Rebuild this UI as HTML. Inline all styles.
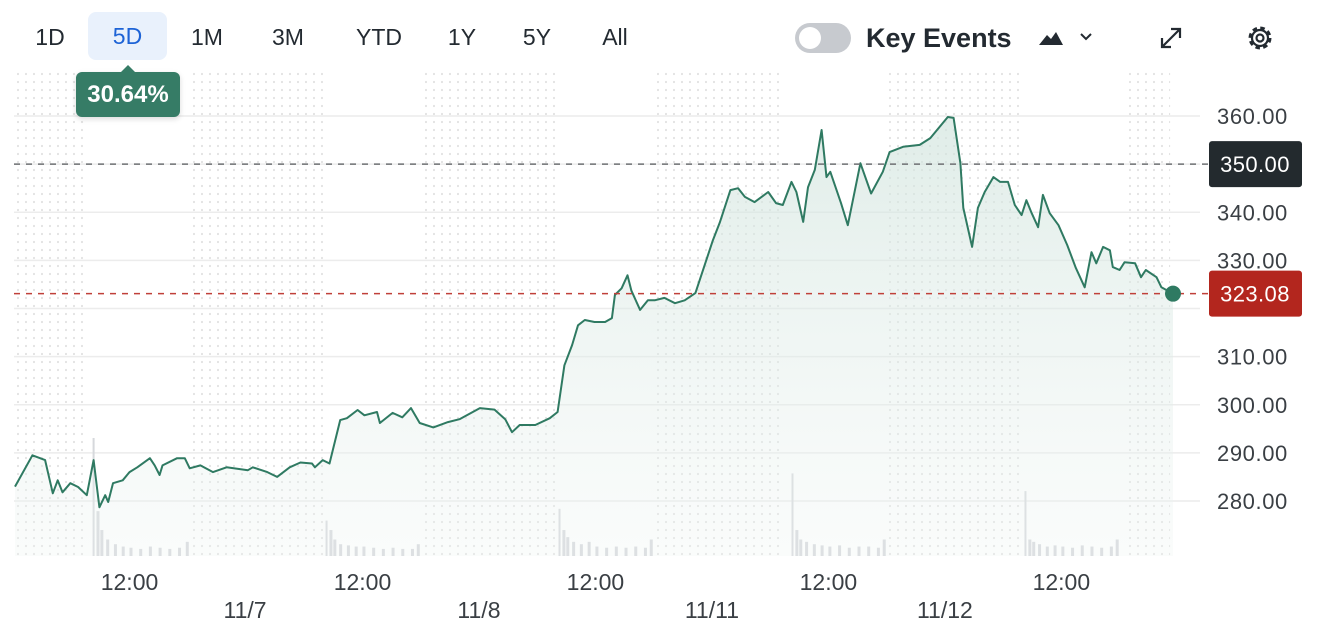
<!DOCTYPE html>
<html><head><meta charset="utf-8"><style>
body{margin:0;width:1340px;height:643px;background:#fff;font-family:"Liberation Sans",sans-serif;overflow:hidden;position:relative;color:#232a31}
.btn{position:absolute;top:13px;height:48px;line-height:48px;font-size:23px;text-align:center;border-radius:8px;color:#232a31}
</style></head><body>
<div class="btn" style="left:22px;width:56px">1D</div>
<div class="btn" style="left:88px;width:79px;top:12px;background:#e9f1fc;color:#1d63d6">5D</div>
<div class="btn" style="left:179px;width:56px">1M</div>
<div class="btn" style="left:260px;width:56px">3M</div>
<div class="btn" style="left:344px;width:70px">YTD</div>
<div class="btn" style="left:434px;width:56px">1Y</div>
<div class="btn" style="left:509px;width:56px">5Y</div>
<div class="btn" style="left:587px;width:56px">All</div>
<div style="position:absolute;left:795px;top:23px;width:56px;height:30px;border-radius:15px;background:#c7cacf"><div style="position:absolute;left:4px;top:4px;width:22px;height:22px;border-radius:11px;background:#fff"></div></div>
<div style="position:absolute;left:866px;top:23px;font-size:27px;font-weight:bold">Key Events</div>
<svg style="position:absolute;left:1036px;top:26px" width="62" height="24"><path d="M3 19 L11 9 L15 13 L20 6 L27 19 Z" fill="#232a31"/><path d="M45 8 L50 13 L55 8" stroke="#232a31" stroke-width="2" fill="none"/></svg>
<svg style="position:absolute;left:1158px;top:25px" width="26" height="26"><path d="M4 22 L22 4 M13 4 H22 V13 M4 13 V22 H13" stroke="#232a31" stroke-width="2.2" fill="none"/></svg>
<svg style="position:absolute;left:1245px;top:23px" width="30" height="30"><circle cx="15" cy="15" r="10" stroke="#232a31" stroke-width="3" fill="none" stroke-dasharray="4.5 3.35"/><circle cx="15" cy="15" r="8" stroke="#232a31" stroke-width="2.2" fill="none"/><circle cx="15" cy="15" r="3.5" stroke="#232a31" stroke-width="2.2" fill="none"/></svg>

<svg id="chart" width="1340" height="643" style="position:absolute;left:0;top:0;pointer-events:none">
<defs>
<pattern id="dots" width="8" height="8" patternUnits="userSpaceOnUse"><circle cx="2" cy="2" r="1.1" fill="#e2e2e2"/></pattern>
<linearGradient id="fillg" x1="0" y1="0" x2="0" y2="1"><stop offset="0" stop-color="#cfe3dc" stop-opacity="0.65"/><stop offset="1" stop-color="#eef4f2" stop-opacity="0.3"/></linearGradient>
</defs>
<g id="bg"></g><g id="grid"></g><g id="vol"></g><g id="area"></g><g id="axes"></g>
</svg>
<div style="position:absolute;left:76px;top:72px;width:104px;height:45px;background:#367c66;border-radius:6px;color:#fff;font-weight:bold;font-size:24px;line-height:45px;text-align:center;box-shadow:0 2px 6px rgba(0,0,0,.15)">30.64%<div style="position:absolute;left:44px;top:-7px;width:0;height:0;border-left:8px solid transparent;border-right:8px solid transparent;border-bottom:8px solid #367c66"></div></div>

<script>
const times=[0.1,1.9,3.2,4.0,4.5,5.0,5.8,6.6,7.5,8.2,8.8,9.4,9.7,10.2,11.2,11.9,12.7,14.0,14.5,15.0,15.3,16.8,17.6,18.1,19.2,20.5,21.9,24.1,24.6,26.1,27.1,28.4,29.5,30.7,31.0,31.8,32.5,33.6,34.3,35.4,36.1,37.4,37.7,39.0,40.0,40.9,41.8,43.2,44.7,45.9,48.0,49.5,50.6,51.3,52.1,53.7,55.2,56.0,56.7,57.5,58.1,58.8,59.8,60.9,61.6,61.9,62.6,63.2,63.6,64.5,65.3,66.0,67.0,68.1,69.1,70.2,72.0,72.7,73.8,74.6,75.3,76.3,77.7,78.5,79.2,80.1,80.6,81.3,81.8,82.5,83.2,83.7,84.1,85.2,85.9,87.2,88.3,89.5,90.2,91.6,93.3,94.4,96.2,96.8,97.5,97.8,98.7,99.3,100.0,100.9,101.6,102.4,103.1,103.8,104.3,104.8,105.5,106.0,106.7,107.6,108.5,109.4,110.3,111.0,111.5,112.2,112.9,113.2,113.9,114.4,115.5,116.1,116.6,117.7,118.2,119.4];
const prices=[283,289.5,288.5,281.6,284.3,281.8,283.7,282.9,281.2,288.5,278.7,281.2,279.8,283.7,284.3,286,287,288.9,287.4,285.4,287.4,288.9,288.9,286.8,287.4,286,287,286.4,287,286,285,287,288,287.8,287,288.5,287.8,296.8,297.2,298.9,297.8,298.5,296.2,298.3,297.4,299.3,296.2,295.3,296.4,297,299.3,299,297,294.3,295.8,295.8,297.2,298.5,308.2,312.4,316.5,317.6,317.2,317.2,318,322.8,324.2,326.9,323.7,319.7,321.7,321.7,322.2,321.1,321.7,323.2,334.2,337.8,344.6,345,343.2,342.1,344.2,341.9,341.5,346.3,344.2,338,345.2,348.8,357.1,347.3,348.4,341.9,337.3,350.2,343.9,348.4,352.5,353.6,354,355.4,359.8,359.6,350.2,340.9,332.8,340.9,344.2,347.3,346.3,346.3,341.5,339.4,342.5,340,336.9,343.6,339.8,337.3,333.2,328.4,324.4,331.7,329.4,332.8,332.1,328.6,328,329.6,329.4,326.5,328,326.5,324.4,323.08];
const volTimes=[8.2,8.6,9.0,9.6,10.4,11.2,12.0,13.0,14.0,15.0,16.0,17.0,17.8,32.2,32.6,33.0,33.6,34.4,35.2,36.0,37.0,38.0,39.0,40.0,41.0,41.6,56.2,56.6,57.0,57.6,58.4,59.2,60.0,61.0,62.0,63.0,64.0,65.0,65.6,80.2,80.6,81.0,81.6,82.4,83.2,84.0,85.0,86.0,87.0,88.0,89.0,89.6,104.2,104.6,105.0,105.6,106.4,107.2,108.0,109.0,110.0,111.0,112.0,113.0,113.6];
const volumes=[100,38,22,14,10,8,7,6,8,7,6,7,12,30,22,14,10,9,8,8,7,6,7,6,6,10,40,22,16,12,10,12,8,7,8,7,8,7,14,70,22,14,12,10,9,8,9,7,8,8,7,14,55,14,12,10,8,9,8,7,9,8,7,8,14];
const yTicks=[280,290,300,310,320,330,340,350,360];
const xTickTimes=[11.9,35.9,59.9,83.9,107.9];
const xTickLabels=["12:00","12:00","12:00","12:00","12:00"];
const dateTimes=[23.8,47.9,71.9,95.9];
const dateLabels=["11/7","11/8","11/11","11/12"];
const extHours=[[0,7.7],[18.1,32.1],[42.0,56.2],[66.0,79.4],[89.7,104.1],[114.4,119.1]];
const prevClose=350.00, lastPrice=323.08;

const X0=14,X1=1173,T0=0,T1=119.4,Y280=501,Y360=116;
const xs=t=>X0+(t-T0)/(T1-T0)*(X1-X0);
const ys=p=>Y280+(p-280)/(80)*(Y360-Y280);
const NS="http://www.w3.org/2000/svg";
function mk(tag,attrs,parent){const e=document.createElementNS(NS,tag);for(const k in attrs)e.setAttribute(k,attrs[k]);parent.appendChild(e);return e;}
const bg=document.getElementById('bg'),grid=document.getElementById('grid'),vol=document.getElementById('vol'),area=document.getElementById('area'),axes=document.getElementById('axes');

extHours.forEach(r=>{const e=mk('rect',{x:xs(r[0]),y:68,width:xs(r[1])-xs(r[0]),height:488,fill:'url(#dots)'},bg);

});
yTicks.forEach(v=>{const l=mk('line',{x1:14,x2:1200,y1:ys(v),y2:ys(v),stroke:'#ececec','stroke-width':1.5},grid);


if(v===350)return;
const t=mk('text',{x:1217,y:ys(v)+8,'font-size':22,'letter-spacing':0.6,fill:'#3a3f44','font-family':'Liberation Sans'},axes);t.textContent=v.toFixed(2);

});
const volMax=100;
volTimes.forEach((t,i)=>{const h=volumes[i]/volMax*118;const r=mk('rect',{x:xs(t)-1,y:556-h,width:i%13===0?2:3,height:h,fill:'#d6d8dc'},vol);

});
let d='';times.forEach((t,i)=>{d+=(i?'L':'M')+xs(t).toFixed(1)+' '+ys(prices[i]).toFixed(1);});
const a=mk('path',{d:d+`L${xs(times[times.length-1])} 556L${xs(times[0])} 556Z`,fill:'url(#fillg)'},area);


const ln=mk('path',{d:d,fill:'none',stroke:'#2f7a62','stroke-width':2,'stroke-linejoin':'round'},area);


const pc=mk('line',{x1:14,x2:1208,y1:ys(prevClose),y2:ys(prevClose),stroke:'#6e7073','stroke-width':1.5,'stroke-dasharray':'6 6'},area);


const lp=mk('line',{x1:14,x2:1208,y1:ys(lastPrice),y2:ys(lastPrice),stroke:'#c0403a','stroke-width':1.5,'stroke-dasharray':'6 6'},area);


const dot=mk('circle',{cx:xs(times[times.length-1]),cy:ys(prices[prices.length-1]),r:8,fill:'#2f7a62'},area);


[[prevClose,'#232a2e','previous-close-badge'],[lastPrice,'#b3261e','last-price-badge']].forEach(b=>{
const g=mk('g',{},axes);


mk('rect',{x:1209,y:ys(b[0])-23,width:93,height:46,rx:3,fill:b[1]},g);
const t=mk('text',{x:1255,y:ys(b[0])+8,'font-size':22,'letter-spacing':0.4,fill:'#fff','text-anchor':'middle','font-family':'Liberation Sans'},g);t.textContent=b[0].toFixed(2);});
xTickTimes.forEach((t,i)=>{const e=mk('text',{x:xs(t),y:590,'font-size':23,fill:'#3a3f44','text-anchor':'middle','font-family':'Liberation Sans'},axes);e.textContent=xTickLabels[i];

});
dateTimes.forEach((t,i)=>{const e=mk('text',{x:xs(t),y:618,'font-size':23,fill:'#3a3f44','text-anchor':'middle','font-family':'Liberation Sans'},axes);e.textContent=dateLabels[i];

});
</script>
</body></html>
